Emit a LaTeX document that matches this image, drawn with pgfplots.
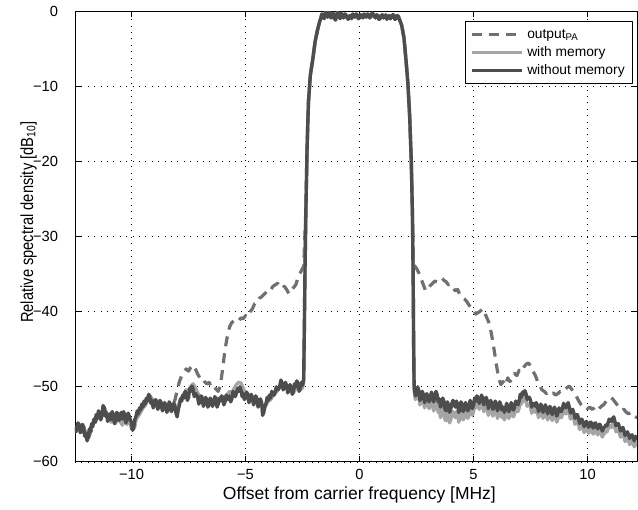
\documentclass[border=0pt]{standalone}
\usepackage{fontspec}
\setmainfont{Liberation Sans}
\usepackage{graphicx}
\usepackage{pgfplots}
\usepackage{pgfplotstable}
\pgfplotsset{compat=1.18}
\definecolor{cpa}{HTML}{707070}
\definecolor{cmem}{HTML}{A5A5A5}
\definecolor{cnomem}{HTML}{4D4D4D}

% without memory
\pgfplotstableread{
x y
-12.5 -55.2
-12.45 -56.0
-12.4 -55.6
-12.35 -54.8
-12.3 -55.0
-12.25 -56.1
-12.2 -55.9
-12.15 -55.0
-12.1 -55.4
-12.05 -56.6
-12.0 -56.2
-11.95 -57.2
-11.9 -56.7
-11.85 -55.6
-11.8 -55.9
-11.75 -54.9
-11.7 -55.3
-11.65 -54.3
-11.6 -54.7
-11.55 -53.7
-11.5 -54.2
-11.45 -53.2
-11.4 -53.6
-11.35 -54.4
-11.3 -53.9
-11.25 -52.5
-11.2 -52.8
-11.15 -53.9
-11.1 -53.4
-11.05 -54.6
-11.0 -54.1
-10.95 -53.6
-10.9 -54.4
-10.85 -53.3
-10.8 -53.8
-10.75 -54.9
-10.7 -54.5
-10.65 -53.4
-10.6 -53.6
-10.55 -54.5
-10.5 -53.9
-10.45 -53.4
-10.4 -54.3
-10.35 -53.3
-10.3 -53.7
-10.25 -54.8
-10.2 -54.4
-10.15 -53.5
-10.1 -53.9
-10.05 -54.4
-10.0 -54.8
-9.95 -55.8
-9.9 -55.3
-9.85 -54.3
-9.8 -53.9
-9.75 -53.2
-9.7 -53.6
-9.65 -52.8
-9.6 -53.1
-9.55 -52.3
-9.5 -52.7
-9.45 -51.9
-9.4 -52.3
-9.35 -51.5
-9.3 -51.9
-9.25 -51.0
-9.2 -51.3
-9.15 -52.2
-9.1 -51.8
-9.05 -52.8
-9.0 -52.4
-8.95 -51.7
-8.9 -52.0
-8.85 -53.0
-8.8 -52.6
-8.75 -51.8
-8.7 -52.2
-8.65 -53.2
-8.6 -52.9
-8.55 -52.1
-8.5 -52.5
-8.45 -53.4
-8.4 -53.0
-8.35 -52.0
-8.3 -52.4
-8.25 -53.3
-8.2 -52.9
-8.15 -52.2
-8.1 -52.6
-8.05 -53.5
-8.0 -54.0
-7.95 -53.0
-7.9 -52.4
-7.85 -51.6
-7.8 -51.9
-7.75 -51.1
-7.7 -51.5
-7.65 -50.6
-7.6 -51.0
-7.55 -51.8
-7.5 -51.4
-7.45 -50.2
-7.4 -50.6
-7.35 -49.9
-7.3 -50.3
-7.25 -51.3
-7.2 -50.9
-7.15 -51.0
-7.1 -51.4
-7.05 -52.3
-7.0 -51.9
-6.95 -51.2
-6.9 -51.6
-6.85 -52.6
-6.8 -52.2
-6.75 -51.4
-6.7 -51.8
-6.65 -52.7
-6.6 -52.3
-6.55 -51.5
-6.5 -51.9
-6.45 -52.6
-6.4 -52.2
-6.35 -51.3
-6.3 -51.7
-6.25 -52.7
-6.2 -52.3
-6.15 -51.5
-6.1 -51.9
-6.05 -51.2
-6.0 -51.6
-5.95 -52.4
-5.9 -52.0
-5.85 -51.1
-5.8 -51.5
-5.75 -51.7
-5.7 -51.2
-5.65 -52.0
-5.6 -51.6
-5.55 -50.6
-5.5 -51.0
-5.45 -51.3
-5.4 -50.8
-5.35 -50.2
-5.3 -50.6
-5.25 -50.0
-5.2 -50.4
-5.15 -51.3
-5.1 -50.9
-5.05 -51.7
-5.0 -51.3
-4.95 -50.7
-4.9 -51.1
-4.85 -52.1
-4.8 -51.7
-4.75 -51.0
-4.7 -51.4
-4.65 -52.4
-4.6 -52.0
-4.55 -51.2
-4.5 -51.6
-4.45 -52.7
-4.4 -52.3
-4.35 -51.6
-4.3 -52.0
-4.25 -53.8
-4.2 -53.4
-4.15 -52.6
-4.1 -52.2
-4.05 -51.4
-4.0 -51.8
-3.95 -51.1
-3.9 -51.5
-3.85 -50.6
-3.8 -51.0
-3.75 -51.1
-3.7 -50.7
-3.65 -50.0
-3.6 -50.4
-3.55 -50.3
-3.5 -49.9
-3.45 -49.1
-3.4 -49.5
-3.35 -50.4
-3.3 -50.0
-3.25 -49.4
-3.2 -49.8
-3.15 -50.8
-3.1 -50.4
-3.05 -49.7
-3.0 -50.1
-2.95 -51.0
-2.9 -50.6
-2.85 -49.6
-2.8 -50.0
-2.75 -49.2
-2.7 -49.6
-2.65 -50.6
-2.6 -50.2
-2.55 -49.4
-2.5 -49.8
-2.45 -49.0
-2.42 -42
-2.39 -34
-2.35 -26
-2.30 -18
-2.24 -12
-2.16 -8.5
-2.05 -6.3
-1.95 -4.0
-1.85 -2.5
-1.75 -1.3
-1.7 -0.9
-1.65 -0.3
-1.6 -0.4
-1.55 -0.9
-1.5 -0.2
-1.45 0.0
-1.4 -0.7
-1.35 -0.4
-1.3 -0.1
-1.25 -0.8
-1.2 -0.5
-1.15 -0.2
-1.1 -0.9
-1.05 -1.1
-1.0 -0.3
-0.95 -0.1
-0.9 -0.6
-0.85 -0.9
-0.8 -0.2
-0.75 -0.5
-0.7 -0.8
-0.65 -0.3
-0.6 -0.4
-0.55 -0.7
-0.5 -1.0
-0.45 -0.6
-0.4 -0.5
-0.35 -0.9
-0.3 -0.3
-0.25 -0.4
-0.2 -0.7
-0.15 -0.3
-0.1 -0.4
-0.05 -0.9
0.0 -0.8
0.05 -0.4
0.1 -0.5
0.15 -0.8
0.2 -0.3
0.25 -0.5
0.3 -0.7
0.35 -0.3
0.4 -0.4
0.45 -0.8
0.5 -0.6
0.55 -0.2
0.6 -0.3
0.65 -0.6
0.7 -0.8
0.75 -0.4
0.8 -0.5
0.85 -1.0
0.9 -0.9
0.95 -0.5
1.0 -0.4
1.05 -0.8
1.1 -0.6
1.15 -0.4
1.2 -1.0
1.25 -0.7
1.3 -0.5
1.35 -0.9
1.4 -0.7
1.45 -0.4
1.5 -0.4
1.55 -1.0
1.6 -0.9
1.65 -0.5
1.7 -0.6
1.75 -1.0
1.85 -1.8
1.95 -3.5
2.04 -6.5
2.12 -9.5
2.20 -14
2.27 -20
2.32 -27
2.35 -35
2.37 -43
2.39 -49
2.4 -50.2
2.45 -51.2
2.5 -50.8
2.55 -50.0
2.6 -50.5
2.65 -51.8
2.7 -51.4
2.75 -50.6
2.8 -51.0
2.85 -52.1
2.9 -51.7
2.95 -50.9
3.0 -51.3
3.05 -52.0
3.1 -51.6
3.15 -50.7
3.2 -51.1
3.25 -52.0
3.3 -51.5
3.35 -50.6
3.4 -51.0
3.45 -52.0
3.5 -51.6
3.55 -52.7
3.6 -52.2
3.65 -51.5
3.7 -51.9
3.75 -53.0
3.8 -53.2
3.85 -52.0
3.9 -52.4
3.95 -53.4
4.0 -53.0
4.05 -52.2
4.1 -51.8
4.15 -52.3
4.2 -52.7
4.25 -51.9
4.3 -52.3
4.35 -53.4
4.4 -53.1
4.45 -52.0
4.5 -52.4
4.55 -53.3
4.6 -52.9
4.65 -52.1
4.7 -52.5
4.75 -53.2
4.8 -52.8
4.85 -51.8
4.9 -52.2
4.95 -52.9
5.0 -52.4
5.05 -51.5
5.1 -51.9
5.15 -51.2
5.2 -51.6
5.25 -52.2
5.3 -51.8
5.35 -51.1
5.4 -51.5
5.45 -52.4
5.5 -52.0
5.55 -51.4
5.6 -51.8
5.65 -52.9
5.7 -52.5
5.75 -51.8
5.8 -52.2
5.85 -53.0
5.9 -52.6
5.95 -51.9
6.0 -52.3
6.05 -53.2
6.1 -52.8
6.15 -52.0
6.2 -52.4
6.25 -53.1
6.3 -52.7
6.35 -53.4
6.4 -53.0
6.45 -52.2
6.5 -52.6
6.55 -53.3
6.6 -52.9
6.65 -52.1
6.7 -52.5
6.75 -53.1
6.8 -52.7
6.85 -51.9
6.9 -52.2
6.95 -52.4
7.0 -51.9
7.05 -51.0
7.1 -51.4
7.15 -50.7
7.2 -51.0
7.25 -50.5
7.3 -50.9
7.35 -51.7
7.4 -51.4
7.45 -51.4
7.5 -51.8
7.55 -52.7
7.6 -52.3
7.65 -52.2
7.7 -52.6
7.75 -52.1
7.8 -52.5
7.85 -53.3
7.9 -52.9
7.95 -52.3
8.0 -52.7
8.05 -53.4
8.1 -53.0
8.15 -52.4
8.2 -52.8
8.25 -53.6
8.3 -53.2
8.35 -52.6
8.4 -53.0
8.45 -53.7
8.5 -53.3
8.55 -52.7
8.6 -53.1
8.65 -53.9
8.7 -53.5
8.75 -52.8
8.8 -53.2
8.85 -53.3
8.9 -52.9
8.95 -52.2
9.0 -52.6
9.05 -52.8
9.1 -52.4
9.15 -52.1
9.2 -52.7
9.25 -53.5
9.3 -53.1
9.35 -53.0
9.4 -53.5
9.45 -54.2
9.5 -53.8
9.55 -53.7
9.6 -54.1
9.65 -54.9
9.7 -54.5
9.75 -54.3
9.8 -54.7
9.85 -55.3
9.9 -54.9
9.95 -54.6
10.0 -55.0
10.05 -55.4
10.1 -54.8
10.15 -54.7
10.2 -55.2
10.25 -55.5
10.3 -54.9
10.35 -54.8
10.4 -55.3
10.45 -55.6
10.5 -55.0
10.55 -55.0
10.6 -55.4
10.65 -55.9
10.7 -55.5
10.75 -55.4
10.8 -55.1
10.85 -55.2
10.9 -54.8
10.95 -54.3
11.0 -54.5
11.05 -54.6
11.1 -54.2
11.15 -54.0
11.2 -54.6
11.25 -55.2
11.3 -55.0
11.35 -54.9
11.4 -55.4
11.45 -55.9
11.5 -55.7
11.55 -55.4
11.6 -55.9
11.65 -56.5
11.7 -56.2
11.75 -56.0
11.8 -56.4
11.85 -56.9
11.9 -56.5
11.95 -56.4
12.0 -56.8
12.05 -57.2
12.1 -56.6
12.15 -56.8
12.2 -57.0
}\tnomem

% with memory
\pgfplotstableread{
x y
-12.5 -55.5
-12.4 -55.9
-12.3 -55.3
-12.2 -56.1
-12.1 -55.6
-12.0 -56.0
-11.9 -56.4
-11.8 -55.6
-11.7 -55.0
-11.6 -54.5
-11.5 -54.0
-11.4 -53.4
-11.3 -53.7
-11.2 -52.9
-11.1 -53.6
-11.0 -54.3
-10.9 -54.7
-10.8 -54.2
-10.7 -54.9
-10.6 -54.0
-10.5 -54.6
-10.4 -55.1
-10.3 -54.4
-10.2 -55.0
-10.1 -54.5
-10.0 -55.2
-9.9 -55.6
-9.8 -54.3
-9.7 -53.9
-9.6 -53.4
-9.5 -52.8
-9.4 -52.5
-9.3 -51.8
-9.2 -51.2
-9.1 -51.6
-9.0 -52.1
-8.9 -51.8
-8.8 -52.4
-8.7 -52.0
-8.6 -52.6
-8.5 -52.3
-8.4 -52.8
-8.3 -52.2
-8.2 -52.7
-8.1 -52.3
-8.0 -53.5
-7.9 -52.0
-7.8 -51.4
-7.7 -50.9
-7.6 -50.4
-7.5 -50.6
-7.4 -49.9
-7.3 -49.6
-7.2 -50.1
-7.1 -50.8
-7.0 -51.4
-6.9 -51.3
-6.8 -51.9
-6.7 -51.6
-6.6 -52.0
-6.5 -51.7
-6.4 -51.9
-6.3 -51.4
-6.2 -51.9
-6.1 -51.6
-6.0 -51.3
-5.9 -51.5
-5.8 -51.0
-5.7 -50.6
-5.6 -50.8
-5.5 -50.2
-5.4 -49.7
-5.3 -49.4
-5.2 -49.5
-5.1 -50.2
-5.0 -50.8
-4.9 -50.9
-4.8 -51.5
-4.7 -51.3
-4.6 -51.9
-4.5 -51.7
-4.4 -52.4
-4.3 -52.2
-4.2 -53.1
-4.1 -52.4
-4.0 -51.9
-3.9 -51.7
-3.8 -51.2
-3.7 -50.9
-3.6 -50.5
-3.5 -50.0
-3.4 -49.6
-3.3 -50.1
-3.2 -50.0
-3.1 -50.6
-3.0 -50.4
-2.9 -50.8
-2.8 -50.3
-2.7 -49.9
-2.6 -50.4
-2.5 -50.1
-2.45 -49.3
-2.42 -42
-2.39 -34
-2.35 -26
-2.30 -18
-2.24 -12
-2.16 -8.5
-2.05 -6.3
-1.95 -4.0
-1.85 -2.5
-1.75 -1.3
-1.7 -0.9
-1.65 -0.3
-1.6 -0.4
-1.55 -0.9
-1.5 -0.2
-1.45 0.0
-1.4 -0.7
-1.35 -0.4
-1.3 -0.1
-1.25 -0.8
-1.2 -0.5
-1.15 -0.2
-1.1 -0.9
-1.05 -1.1
-1.0 -0.3
-0.95 -0.1
-0.9 -0.6
-0.85 -0.9
-0.8 -0.2
-0.75 -0.5
-0.7 -0.8
-0.65 -0.3
-0.6 -0.4
-0.55 -0.7
-0.5 -1.0
-0.45 -0.6
-0.4 -0.5
-0.35 -0.9
-0.3 -0.3
-0.25 -0.4
-0.2 -0.7
-0.15 -0.3
-0.1 -0.4
-0.05 -0.9
0.0 -0.8
0.05 -0.4
0.1 -0.5
0.15 -0.8
0.2 -0.3
0.25 -0.5
0.3 -0.7
0.35 -0.3
0.4 -0.4
0.45 -0.8
0.5 -0.6
0.55 -0.2
0.6 -0.3
0.65 -0.6
0.7 -0.8
0.75 -0.4
0.8 -0.5
0.85 -1.0
0.9 -0.9
0.95 -0.5
1.0 -0.4
1.05 -0.8
1.1 -0.6
1.15 -0.4
1.2 -1.0
1.25 -0.7
1.3 -0.5
1.35 -0.9
1.4 -0.7
1.45 -0.4
1.5 -0.4
1.55 -1.0
1.6 -0.9
1.65 -0.5
1.7 -0.6
1.75 -1.0
1.85 -1.8
1.95 -3.5
2.04 -6.5
2.12 -9.5
2.20 -14
2.27 -20
2.32 -27
2.35 -35
2.37 -43
2.39 -49.5
2.4 -50.6
2.45 -51.7
2.5 -51.3
2.55 -50.7
2.6 -51.1
2.65 -52.4
2.7 -52.0
2.75 -51.3
2.8 -51.7
2.85 -52.8
2.9 -52.4
2.95 -51.7
3.0 -52.1
3.05 -52.9
3.1 -52.5
3.15 -51.9
3.2 -52.3
3.25 -53.2
3.3 -52.8
3.35 -52.0
3.4 -52.4
3.45 -53.4
3.5 -53.0
3.55 -54.1
3.6 -53.6
3.65 -52.9
3.7 -53.3
3.75 -54.4
3.8 -54.5
3.85 -53.5
3.9 -53.9
3.95 -54.8
4.0 -54.4
4.05 -53.7
4.1 -53.3
4.15 -53.7
4.2 -54.1
4.25 -53.3
4.3 -53.7
4.35 -54.7
4.4 -54.3
4.45 -53.3
4.5 -53.7
4.55 -54.4
4.6 -54.0
4.65 -53.2
4.7 -53.6
4.75 -54.2
4.8 -53.8
4.85 -52.8
4.9 -53.2
4.95 -53.8
5.0 -53.3
5.05 -52.4
5.1 -52.8
5.15 -52.1
5.2 -52.5
5.25 -53.0
5.3 -52.6
5.35 -52.0
5.4 -52.4
5.45 -53.3
5.5 -52.9
5.55 -52.4
5.6 -52.8
5.65 -53.8
5.7 -53.4
5.75 -52.7
5.8 -53.1
5.85 -53.9
5.9 -53.5
5.95 -52.9
6.0 -53.3
6.05 -54.2
6.1 -53.8
6.15 -53.1
6.2 -53.5
6.25 -54.1
6.3 -53.7
6.35 -54.4
6.4 -54.0
6.45 -53.2
6.5 -53.6
6.55 -54.2
6.6 -53.8
6.65 -53.0
6.7 -53.4
6.75 -54.0
6.8 -53.6
6.85 -52.8
6.9 -53.1
6.95 -53.3
7.0 -52.8
7.05 -51.9
7.1 -52.3
7.15 -51.6
7.2 -51.9
7.25 -51.4
7.3 -51.8
7.35 -52.6
7.4 -52.3
7.45 -52.3
7.5 -52.7
7.55 -53.5
7.6 -53.1
7.65 -53.0
7.7 -53.4
7.75 -52.9
7.8 -53.3
7.85 -54.1
7.9 -53.7
7.95 -53.1
8.0 -53.5
8.05 -54.2
8.1 -53.8
8.15 -53.2
8.2 -53.6
8.25 -54.4
8.3 -54.0
8.35 -53.4
8.4 -53.8
8.45 -54.5
8.5 -54.1
8.55 -53.5
8.6 -53.9
8.65 -54.7
8.7 -54.3
8.75 -53.6
8.8 -54.0
8.85 -54.1
8.9 -53.7
8.95 -53.0
9.0 -53.4
9.05 -53.6
9.1 -53.2
9.15 -52.9
9.2 -53.5
9.25 -54.3
9.3 -53.9
9.35 -53.8
9.4 -54.3
9.45 -55.0
9.5 -54.6
9.55 -54.5
9.6 -54.9
9.65 -55.7
9.7 -55.3
9.75 -55.1
9.8 -55.5
9.85 -56.1
9.9 -55.7
9.95 -55.4
10.0 -55.8
10.05 -56.2
10.1 -55.6
10.15 -55.5
10.2 -56.0
10.25 -56.3
10.3 -55.7
10.35 -55.6
10.4 -56.1
10.45 -56.4
10.5 -55.8
10.55 -55.8
10.6 -56.2
10.65 -56.7
10.7 -56.3
10.75 -56.2
10.8 -55.9
10.85 -56.0
10.9 -55.6
10.95 -55.1
11.0 -55.3
11.05 -55.4
11.1 -55.0
11.15 -54.8
11.2 -55.4
11.25 -56.0
11.3 -55.8
11.35 -55.7
11.4 -56.2
11.45 -56.7
11.5 -56.5
11.55 -56.2
11.6 -56.7
11.65 -57.3
11.7 -57.0
11.75 -56.8
11.8 -57.2
11.85 -57.7
11.9 -57.3
11.95 -57.2
12.0 -57.6
12.05 -58.0
12.1 -57.4
12.15 -57.6
12.2 -57.8
}\tmem

% output PA
\pgfplotstableread{
x y
-12.5 -55.4
-12.4 -55.8
-12.3 -55.2
-12.2 -56.0
-12.1 -55.3
-12.0 -56.4
-11.9 -56.9
-11.8 -56.1
-11.7 -55.4
-11.6 -54.8
-11.5 -54.1
-11.4 -53.5
-11.3 -53.8
-11.2 -52.7
-11.1 -53.5
-11.0 -54.2
-10.9 -54.6
-10.8 -54.0
-10.7 -54.8
-10.6 -53.9
-10.5 -54.9
-10.4 -55.0
-10.3 -54.0
-10.2 -54.6
-10.1 -54.2
-10.0 -55.6
-9.9 -56.0
-9.8 -54.1
-9.7 -53.7
-9.6 -53.2
-9.5 -52.6
-9.4 -52.2
-9.3 -51.7
-9.2 -51.2
-9.1 -51.7
-9.0 -52.3
-8.9 -51.9
-8.8 -52.5
-8.7 -52.1
-8.6 -52.8
-8.5 -52.4
-8.4 -52.9
-8.3 -52.1
-8.2 -52.4
-8.1 -51.8
-8.0 -50.5
-7.9 -49.3
-7.8 -48.5
-7.7 -48.0
-7.6 -47.6
-7.5 -47.9
-7.4 -47.4
-7.3 -47.1
-7.2 -47.6
-7.1 -48.3
-7.0 -48.8
-6.9 -48.7
-6.8 -49.3
-6.7 -49.6
-6.6 -49.4
-6.5 -50.0
-6.4 -49.8
-6.3 -50.3
-6.2 -50.6
-6.1 -49.8
-6.0 -47.5
-5.9 -45.0
-5.8 -43.3
-5.7 -42.0
-5.6 -41.4
-5.5 -41.2
-5.4 -41.0
-5.3 -41.2
-5.2 -40.8
-5.1 -40.9
-5.0 -40.5
-4.9 -40.7
-4.8 -40.0
-4.7 -39.6
-4.6 -38.9
-4.5 -38.8
-4.4 -38.2
-4.3 -38.0
-4.2 -37.7
-4.1 -37.4
-4.0 -37.0
-3.9 -37.1
-3.8 -36.6
-3.7 -36.4
-3.6 -36.2
-3.5 -36.5
-3.4 -36.9
-3.3 -36.6
-3.2 -37.0
-3.1 -37.6
-3.0 -37.2
-2.9 -36.8
-2.8 -36.4
-2.7 -35.5
-2.6 -34.8
-2.5 -34.2
-2.45 -34.0
-2.40 -30
-2.35 -26
-2.30 -18
-2.24 -12
-2.16 -8.5
-2.05 -6.3
-1.95 -4.0
-1.85 -2.5
-1.75 -1.3
-1.7 -0.9
-1.65 -0.3
-1.6 -0.4
-1.55 -0.9
-1.5 -0.2
-1.45 0.0
-1.4 -0.7
-1.35 -0.4
-1.3 -0.1
-1.25 -0.8
-1.2 -0.5
-1.15 -0.2
-1.1 -0.9
-1.05 -1.1
-1.0 -0.3
-0.95 -0.1
-0.9 -0.6
-0.85 -0.9
-0.8 -0.2
-0.75 -0.5
-0.7 -0.8
-0.65 -0.3
-0.6 -0.4
-0.55 -0.7
-0.5 -1.0
-0.45 -0.6
-0.4 -0.5
-0.35 -0.9
-0.3 -0.3
-0.25 -0.4
-0.2 -0.7
-0.15 -0.3
-0.1 -0.4
-0.05 -0.9
0.0 -0.8
0.05 -0.4
0.1 -0.5
0.15 -0.8
0.2 -0.3
0.25 -0.5
0.3 -0.7
0.35 -0.3
0.4 -0.4
0.45 -0.8
0.5 -0.6
0.55 -0.2
0.6 -0.3
0.65 -0.6
0.7 -0.8
0.75 -0.4
0.8 -0.5
0.85 -1.0
0.9 -0.9
0.95 -0.5
1.0 -0.4
1.05 -0.8
1.1 -0.6
1.15 -0.4
1.2 -1.0
1.25 -0.7
1.3 -0.5
1.35 -0.9
1.4 -0.7
1.45 -0.4
1.5 -0.4
1.55 -1.0
1.6 -0.9
1.65 -0.5
1.7 -0.6
1.75 -1.0
1.85 -1.8
1.95 -3.5
2.04 -6.5
2.12 -9.5
2.20 -14
2.27 -20
2.32 -27
2.36 -33.2
2.4 -33.8
2.5 -34.2
2.6 -34.8
2.7 -35.6
2.8 -36.4
2.9 -37.2
3.0 -37.0
3.1 -36.5
3.2 -36.2
3.3 -35.9
3.4 -36.0
3.5 -35.6
3.6 -35.5
3.7 -35.8
3.8 -36.0
3.9 -36.4
4.0 -36.3
4.1 -36.8
4.2 -37.2
4.3 -37.0
4.4 -37.7
4.5 -38.1
4.6 -38.3
4.7 -38.6
4.8 -39.1
4.9 -39.5
5.0 -39.7
5.1 -40.3
5.2 -40.1
5.3 -39.9
5.4 -39.6
5.5 -40.2
5.6 -40.9
5.7 -41.6
5.8 -43.2
5.9 -45.0
6.0 -47.0
6.1 -48.8
6.2 -49.7
6.3 -49.3
6.4 -49.8
6.5 -48.8
6.6 -49.3
6.7 -48.6
6.8 -48.2
6.9 -48.5
7.0 -47.8
7.1 -48.0
7.2 -47.4
7.3 -47.0
7.4 -46.8
7.5 -47.2
7.6 -47.9
7.7 -48.4
7.8 -49.2
7.9 -49.8
8.0 -50.4
8.1 -50.6
8.2 -50.9
8.3 -50.7
8.4 -51.0
8.5 -50.8
8.6 -51.1
8.7 -50.9
8.8 -50.6
8.9 -50.7
9.0 -50.4
9.1 -50.1
9.2 -49.9
9.3 -50.3
9.4 -50.8
9.5 -51.2
9.6 -51.8
9.7 -52.3
9.8 -52.7
9.9 -52.6
10.0 -52.9
10.1 -52.7
10.2 -53.0
10.3 -52.8
10.4 -52.5
10.5 -52.9
10.6 -52.6
10.7 -52.4
10.8 -52.0
10.9 -51.6
11.0 -51.4
11.1 -51.6
11.2 -52.0
11.3 -52.4
11.4 -52.8
11.5 -53.1
11.6 -53.0
11.7 -53.4
11.8 -53.6
11.9 -53.4
12.0 -53.8
12.1 -54.0
12.2 -54.1
}\tpa

\begin{document}
\begin{tikzpicture}
\begin{axis}[
  scale only axis, width=281bp, height=225bp,
  xmin=-12.48, xmax=12.17, ymin=-60, ymax=0,
  xtick={-10,-5,0,5,10}, xticklabels={−10,−5,0,5,10},
  ytick={-60,-50,-40,-30,-20,-10,0},
  yticklabels={−60,−50,−40,−30,−20,−10,0},
  tick align=inside, major tick length=2.8bp,
  grid=major,
  major grid style={black, line width=0.35bp, dash pattern=on 0.5bp off 2.7bp},
  axis line style={black, line width=0.4bp},
  tick style={black, line width=0.4bp},
  ticklabel style={font=\fontsize{7.35bp}{8.5bp}\selectfont},
  xticklabel style={anchor=base, yshift=-9bp},
  yticklabel style={anchor=east, xshift=-5bp},
  xlabel={Offset from carrier frequency [MHz]},
  ylabel={\scalebox{0.84}[1]{Relative spectral density [dB\textsubscript{10}]}},
  xlabel style={font=\fontsize{8.75bp}{10bp}\selectfont, at={(axis description cs:0.5,0)}, anchor=base, yshift=-18.9bp, xshift=1.7bp},
  ylabel style={font=\fontsize{8.75bp}{10bp}\selectfont, at={(axis description cs:-0.0747,0.533)}, anchor=base},
  legend style={at={(axis description cs:0.993,0.98)}, anchor=north east,
    draw=black, line width=0.4bp, fill=white,
    font=\fontsize{6.9bp}{8bp}\selectfont,
    inner xsep=2bp, inner ysep=2bp, row sep=0bp,
    nodes={inner xsep=2bp, inner ysep=1bp, text height=5.5bp, text depth=1.5bp},
    cells={anchor=west}},
  legend image code/.code={\draw[#1] (0bp,0bp) -- (25bp,0bp);},
  line join=round,
]
\addplot[cpa, line width=1.6bp, dash pattern=on 5bp off 3.5bp] table[x=x,y=y] {\tpa};
\addlegendentry{output\textsubscript{PA}}
\addplot[cmem, line width=1.7bp] table[x=x,y=y] {\tmem};
\addlegendentry{with memory}
\addplot[cnomem, line width=1.7bp] table[x=x,y=y] {\tnomem};
\addlegendentry{without memory}
\end{axis}
\path[use as bounding box] (-37.5bp,-23.5bp) rectangle (281.5bp,229bp);
\end{tikzpicture}
\end{document}
